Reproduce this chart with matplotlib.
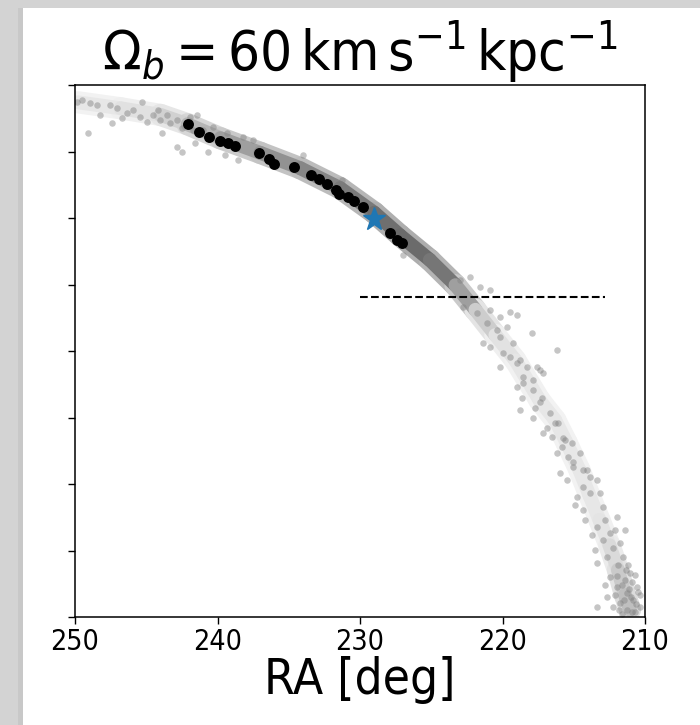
import matplotlib
matplotlib.use("Agg")
import numpy as np
import matplotlib.pyplot as plt
from matplotlib.collections import LineCollection
from matplotlib.patches import Rectangle

# condensed DejaVu everywhere, math text too
plt.rcParams['font.family'] = ['DejaVu Sans']
plt.rcParams['font.stretch'] = 'condensed'
plt.rcParams['mathtext.fontset'] = 'custom'
plt.rcParams['mathtext.rm'] = 'DejaVu Sans:stretch=condensed'
plt.rcParams['mathtext.it'] = 'DejaVu Sans:style=oblique:stretch=condensed'

# stream centre line (RA, y) and relative star density along it
track_ra = [249.8, 246.8, 244.0, 242.1, 239.8, 237.0, 234.2, 231.4, 229.0, 227.2, 225.1, 223.3, 221.9,
            220.5, 219.1, 217.4, 216.3, 215.5, 214.6, 213.9, 213.2, 212.5, 211.9, 211.4, 211.05]
track_dec = [7.74, 7.65, 7.55, 7.41, 7.20, 6.98, 6.75, 6.45, 6.08, 5.74, 5.37, 4.99, 4.62,
             4.24, 3.86, 3.26, 2.96, 2.62, 2.21, 1.83, 1.46, 1.08, 0.71, 0.33, 0.11]
track_density = [0.15, 0.18, 0.22, 0.4, 0.6, 0.7, 0.78, 0.85, 0.95, 1.0, 1.0, 0.85, 0.45,
                 0.22, 0.17, 0.17, 0.16, 0.16, 0.16, 0.16, 0.17, 0.2, 0.3, 0.42, 0.45]

# individual stream particles away from the dense core
stream_ra = [249.86, 249.51, 248.95, 248.46, 248.25, 247.54, 247.05, 246.70, 247.40, 246.35,
             245.93, 245.30, 245.44, 244.95, 244.53, 244.04, 244.18, 243.54, 243.33, 243.89,
             249.09, 242.84, 242.49, 241.93, 241.44, 241.72, 242.84, 242.49, 241.58, 240.67,
             241.02, 240.32, 239.47, 238.56, 238.21, 237.51, 239.33, 234.00, 231.26, 226.98,
             222.98, 222.28, 221.58, 220.88, 222.77, 221.79, 220.88, 220.18, 219.47, 218.98,
             221.09, 220.39, 219.68, 221.37, 220.88, 220.18, 219.26, 217.93, 219.96, 219.47,
             218.77, 220.18, 218.28, 217.58, 218.56, 217.86, 218.98, 217.16, 216.18, 218.98,
             217.37, 218.56, 217.86, 217.23, 218.63, 218.77, 217.72, 216.67, 217.86, 216.88,
             216.11, 217.16, 216.53, 215.75, 215.82, 215.12, 216.18, 215.40, 214.56, 215.05,
             215.96, 214.35, 215.47, 213.86, 214.35, 213.37, 217.37, 216.32, 215.61, 215.05,
             214.07, 213.86, 214.77, 213.16, 214.35, 212.95, 213.37, 212.46, 211.96, 211.75,
             212.95, 213.37, 212.67, 211.54, 211.05, 212.46, 211.96, 211.26, 210.84, 212.67,
             211.75, 210.56, 213.37, 210.35, 211.26, 212.25, 212.11, 211.40, 210.70, 211.89,
             211.19, 212.25, 211.40, 210.35, 210.91, 211.61, 212.81, 214.21, 213.72, 214.91,
             212.81, 213.51, 212.11, 211.1, 210.6, 211.5, 210.9, 211.8, 211.3, 210.5,
             212.0, 211.0, 210.7, 211.6]
stream_dec = [7.74, 7.77, 7.73, 7.70, 7.55, 7.70, 7.65, 7.50, 7.43, 7.58,
              7.62, 7.74, 7.52, 7.44, 7.55, 7.47, 7.62, 7.55, 7.43, 7.28,
              7.28, 7.47, 7.35, 7.52, 7.55, 7.32, 7.07, 6.99, 7.13, 6.99,
              7.32, 7.37, 6.95, 6.87, 7.22, 7.17, 7.28, 6.95, 6.57, 5.44,
              5.07, 5.11, 4.96, 4.92, 4.66, 4.57, 4.62, 4.51, 4.59, 4.54,
              4.42, 4.32, 4.36, 4.12, 4.06, 4.21, 4.12, 4.27, 3.97, 3.91,
              3.86, 3.76, 3.76, 3.76, 3.61, 3.56, 3.46, 3.67, 4.02, 3.82,
              3.71, 3.52, 3.41, 3.29, 3.29, 3.11, 3.14, 3.07, 2.99, 2.84,
              2.92, 2.77, 2.71, 2.69, 2.56, 2.62, 2.47, 2.41, 2.47, 2.26,
              2.17, 2.21, 2.06, 2.11, 1.95, 2.06, 3.23, 2.92, 2.66, 2.33,
              2.21, 1.86, 1.80, 1.86, 1.61, 1.65, 1.35, 1.26, 1.50, 1.11,
              1.16, 0.81, 0.90, 0.90, 0.66, 0.60, 0.45, 0.36, 0.26, 0.30,
              0.21, 0.45, 0.15, 0.15, 0.11, 0.15, 0.33, 0.56, 0.63, 0.78,
              0.78, 1.04, 1.31, 0.33, 0.08, 0.05, 0.48, 1.46, 1.23, 1.68,
              1.46, 1.01, 1.31, 0.42, 0.20, 0.25, 0.52, 0.10, 0.70, 0.38,
              0.62, 0.30, 0.08, 0.48]

# observed members (black) and the progenitor (star)
obs_ra = [242.09, 241.30, 240.58, 239.82, 239.28, 238.75, 237.09, 236.39, 236.04, 234.65, 233.46,
          232.90, 232.34, 231.71, 231.45, 230.84, 230.42, 229.77, 227.89, 227.42, 227.07]
obs_dec = [7.41, 7.30, 7.22, 7.16, 7.13, 7.09, 6.97, 6.88, 6.81, 6.76, 6.64,
           6.58, 6.51, 6.42, 6.36, 6.31, 6.25, 6.17, 5.77, 5.67, 5.63]
prog_ra, prog_dec = 229.0, 5.98

# horizontal reference line
dash_ra = [230.0, 212.8]
dash_dec = 4.81

fig = plt.figure(figsize=(7, 7.25), dpi=100, facecolor='#d3d3d3')
fig.patches.append(Rectangle((18 / 700, 0), 5 / 700, 1 - 8 / 725, transform=fig.transFigure,
                             facecolor='#c8c8c8', edgecolor='none', zorder=-11))
fig.patches.append(Rectangle((23 / 700, 0), 1, 1 - 8 / 725, transform=fig.transFigure,
                             facecolor='white', edgecolor='none', zorder=-10))

ax = fig.add_axes([75 / 700, 1 - 617 / 725, 570 / 700, 532 / 725])

# dense core of the stream as a thick band, shaded by density
pts = np.column_stack([track_ra, track_dec])
segs = np.stack([pts[:-1], pts[1:]], axis=1)
dens = (np.array(track_density[:-1]) + np.array(track_density[1:])) / 2
outer = [str(1 - 0.32 * d) for d in dens]
inner = [str(1 - 0.58 * d) for d in dens]
ax.add_collection(LineCollection(segs, colors=outer, linewidths=16, capstyle='round', zorder=1))
ax.add_collection(LineCollection(segs, colors=inner, linewidths=10, capstyle='round', zorder=1))

ax.scatter(stream_ra, stream_dec, s=22, color='gray', alpha=0.45, linewidths=0, zorder=2)
ax.scatter(obs_ra, obs_dec, s=62, color='black', linewidths=0, zorder=3)
ax.plot(prog_ra, prog_dec, marker='*', markersize=17, color='#1f77b4', zorder=4)
ax.plot(dash_ra, [dash_dec, dash_dec], 'k--', lw=1.5, zorder=5)

ax.set_xlim(250, 210)
ax.set_ylim(0, 8)
ax.set_xticks([250, 240, 230, 220, 210])
ax.set_yticks(range(0, 9))
ax.set_yticklabels([])
ax.tick_params(length=5, width=1, labelsize=20.5, pad=3)
for sp in ax.spines.values():
    sp.set_linewidth(1.1)
ax.set_xlabel('RA [deg]', fontsize=35.5, labelpad=0)
ax.set_title(r'$\Omega_b = 60\,\mathrm{km\,s^{-1}\,kpc^{-1}}$', fontsize=40.6, pad=3.6)

fig.savefig('out.png', facecolor=fig.get_facecolor())
